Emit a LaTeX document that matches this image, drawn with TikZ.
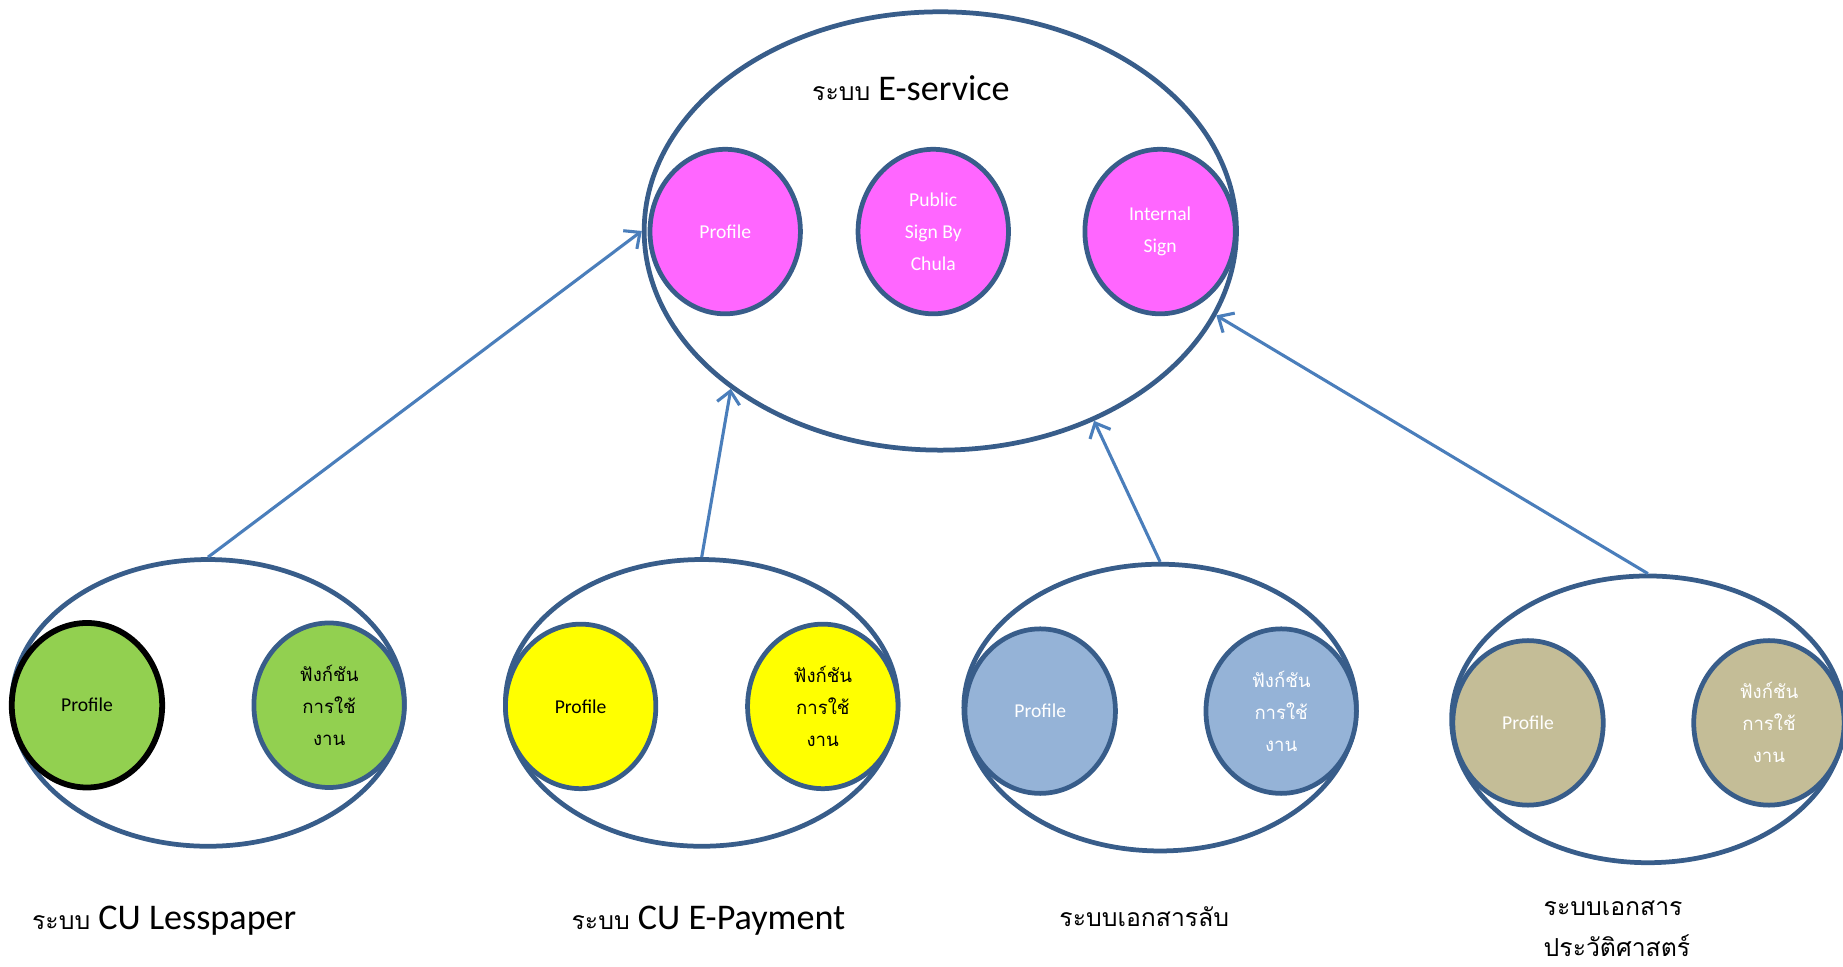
\documentclass[tikz,border=0pt]{standalone}
\usepackage{fontspec}
\setmainfont{Carlito}
\newfontfamily\thaifont[Script=Thai]{Loma}
\usetikzlibrary{shapes.geometric, arrows.meta, positioning}
\definecolor{rimBlue}{HTML}{385D8A}
\definecolor{linkBlue}{HTML}{4A7EBB}
\definecolor{signPink}{HTML}{FF66FF}
\definecolor{leafGreen}{HTML}{92D050}
\definecolor{lemonYellow}{HTML}{FFFF00}
\definecolor{steelBlue}{HTML}{95B3D7}
\definecolor{sandTan}{HTML}{C4BD97}

\tikzset{
    sysOval/.style={ellipse, draw=rimBlue, line width=2.3pt, minimum width=6.68cm, minimum height=4.88cm},
    partOval/.style={ellipse, draw=rimBlue, line width=2.3pt, minimum width=2.56cm, minimum height=2.8cm,
        inner sep=0pt, align=center, font=\fontsize{9.5}{15.5}\selectfont},
    funcOval/.style={partOval, font=\thaifont\fontsize{9}{15.5}\selectfont},
    sysLabel/.style={anchor=west, inner sep=0pt, font=\fontsize{17.5}{22}\selectfont},
    linkArrow/.style={draw=linkBlue, line width=1.5pt, -{Straight Barb[length=6pt, width=11pt]}},
}
\newcommand{\thaiword}[1]{{\thaifont\fontsize{12}{15}\selectfont #1}}

\begin{document}
\begin{tikzpicture}[x=0.02cm, y=-0.02cm]
    \useasboundingbox (0,0) rectangle (1568,822);

    % E-service
    \node[ellipse, draw=rimBlue, line width=2.3pt, minimum width=10.08cm, minimum height=7.46cm] (eserv) at (800,196.5) {};
    \node[font=\fontsize{17.5}{22}\selectfont] (eservTitle) at (775,75) {\thaiword{ระบบ} E-service};
    \node[partOval, fill=signPink, text=white] (eProf) at (617,197) {Profile};
    \node[partOval, fill=signPink, text=white] (ePublic) at (794,197) {Public\\Sign By\\Chula};
    \node[partOval, fill=signPink, text=white] (eInternal) at (987,197) {Internal\\Sign};

    % CU Lesspaper
    \begin{scope}[shift={(177,598)}]
        \node[sysOval] (less) at (0,0) {};
        \node[partOval, fill=leafGreen, draw=black, line width=2.8pt] (lessProf) at (-103,2) {Profile};
        \node[funcOval, fill=leafGreen] (lessFunc) at (103,2) {ฟังก์ชัน\\การใช้\\งาน};
    \end{scope}
    \node[sysLabel] (lessLbl) at (27,783) {\thaiword{ระบบ} CU Lesspaper};

    % CU E-Payment
    \begin{scope}[shift={(597,598)}]
        \node[sysOval] (pay) at (0,0) {};
        \node[partOval, fill=lemonYellow] (payProf) at (-103,3) {Profile};
        \node[funcOval, fill=lemonYellow] (payFunc) at (103,3) {ฟังก์ชัน\\การใช้\\งาน};
    \end{scope}
    \node[sysLabel] (payLbl) at (486,783) {\thaiword{ระบบ} CU E-Payment};

    % เอกสารลับ
    \begin{scope}[shift={(987,602)}]
        \node[sysOval] (secret) at (0,0) {};
        \node[partOval, fill=steelBlue, text=white] (secretProf) at (-102,3) {Profile};
        \node[funcOval, fill=steelBlue, text=white] (secretFunc) at (103,3) {ฟังก์ชัน\\การใช้\\งาน};
    \end{scope}
    \node[anchor=west, inner sep=0pt] (secretLbl) at (901,780) {\thaiword{ระบบเอกสารลับ}};

    % เอกสารประวัติศาสตร์
    \begin{scope}[shift={(1402,612)}]
        \node[sysOval] (hist) at (0,0) {};
        \node[partOval, fill=sandTan, text=white] (histProf) at (-102,3) {Profile};
        \node[funcOval, fill=sandTan, text=white] (histFunc) at (103,3) {ฟังก์ชัน\\การใช้\\งาน};
    \end{scope}
    \node[anchor=west, inner sep=0pt, align=left, font=\thaifont\fontsize{12}{20}\selectfont] (histLbl) at (1313,790) {ระบบเอกสาร\\ประวัติศาสตร์};

    % links
    \draw[linkArrow] (less.north) -- (eserv.west);
    \draw[linkArrow] (pay.north) -- (eserv.217);
    \draw[linkArrow] (secret.north) -- (eserv.309);
    \draw[linkArrow] (hist.north) -- (eserv.343);
\end{tikzpicture}
\end{document}
